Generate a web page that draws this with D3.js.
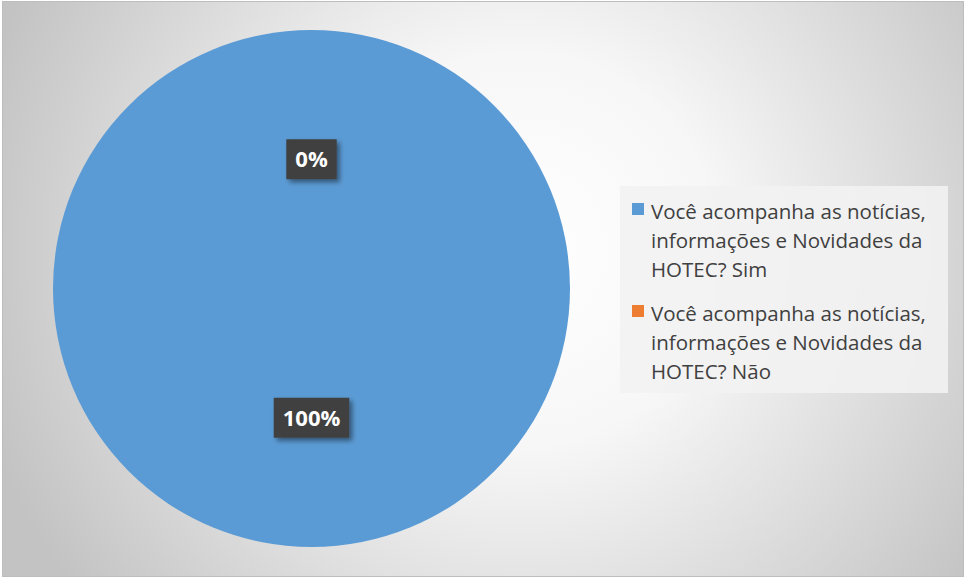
<!DOCTYPE html>
<html>
<head>
<meta charset="utf-8">
<script src="https://cdn.jsdelivr.net/npm/d3@7"></script>
<style>
  html, body { margin: 0; padding: 0; background: #fff; }
  svg { display: block; }
</style>
</head>
<body>
<div id="chart"></div>
<script>
// dados do gráfico
const categories = [
  "Você acompanha as notícias, informações e Novidades da HOTEC? Sim",
  "Você acompanha as notícias, informações e Novidades da HOTEC? Não"
];
const values = [100, 0];
const legendLines = [
  ["Você acompanha as notícias,", "informações e Novidades da", "HOTEC? Sim"],
  ["Você acompanha as notícias,", "informações e Novidades da", "HOTEC? Não"]
];
const colors = ["#5b9bd5", "#ed7d31"];

const width = 965, height = 578;
const cx = 311.5, cy = 288.5, radius = 258.5;

const svg = d3.select("#chart").append("svg")
  .attr("width", width)
  .attr("height", height);

const defs = svg.append("defs");

// fundo com gradiente radial
const grad = defs.append("radialGradient")
  .attr("id", "bg")
  .attr("gradientUnits", "userSpaceOnUse")
  .attr("cx", 520).attr("cy", 250).attr("r", 560);
grad.append("stop").attr("offset", "0%").attr("stop-color", "#ffffff");
grad.append("stop").attr("offset", "35%").attr("stop-color", "#f7f7f7");
grad.append("stop").attr("offset", "100%").attr("stop-color", "#c3c3c3");

// sombra dos rótulos
const shadow = defs.append("filter").attr("id", "shadow")
  .attr("x", "-30%").attr("y", "-30%").attr("width", "160%").attr("height", "160%");
shadow.append("feDropShadow")
  .attr("dx", 3).attr("dy", 3).attr("stdDeviation", 2.5)
  .attr("flood-color", "#000").attr("flood-opacity", 0.45);

svg.append("rect")
  .attr("x", 2.5).attr("y", 1.5)
  .attr("width", width - 4).attr("height", height - 3)
  .attr("fill", "url(#bg)")
  .attr("stroke", "#bdbdbd");

// pizza
const pie = d3.pie().sort(null).value(d => d)(values);
const arc = d3.arc().innerRadius(0).outerRadius(radius);

const g = svg.append("g").attr("transform", `translate(${cx},${cy})`);

g.selectAll("path")
  .data(pie)
  .join("path")
  .attr("fill", (d, i) => colors[i])
  .attr("d", arc);

// rótulos de porcentagem
const total = d3.sum(values);
const labels = g.selectAll("g.lbl")
  .data(pie)
  .join("g")
  .attr("class", "lbl")
  .attr("transform", d => `translate(${arc.centroid(d)})`);

labels.each(function(d) {
  const el = d3.select(this);
  const txt = Math.round(d.data / total * 100) + "%";
  const rect = el.append("rect").attr("fill", "#404040").attr("filter", "url(#shadow)");
  const t = el.append("text")
    .attr("text-anchor", "middle")
    .attr("dy", "0.36em")
    .attr("font-family", "'Open Sans', sans-serif")
    .attr("font-size", "22px")
    .attr("font-weight", "bold")
    .attr("fill", "#ffffff")
    .text(txt);
  const w = t.node().getComputedTextLength() + 18;
  const h = 40;
  rect.attr("x", -w / 2).attr("y", -h / 2).attr("width", w).attr("height", h);
});

// legenda
const legend = svg.append("g").attr("transform", "translate(620,186)");
legend.append("rect")
  .attr("width", 328).attr("height", 207)
  .attr("fill", "#f2f2f2").attr("fill-opacity", 0.9);

const item = legend.selectAll("g.item")
  .data(categories)
  .join("g")
  .attr("class", "item")
  .attr("transform", (d, i) => `translate(0, ${i * 102})`);

item.append("rect")
  .attr("x", 12).attr("y", 17)
  .attr("width", 12).attr("height", 12)
  .attr("fill", (d, i) => colors[i]);

item.append("text")
  .attr("font-family", "'Open Sans', sans-serif")
  .attr("font-size", "20.5px")
  .attr("fill", "#404040")
  .selectAll("tspan")
  .data((d, i) => legendLines[i])
  .join("tspan")
  .attr("x", 31)
  .attr("y", (d, i) => 33 + i * 29)
  .text(d => d);
</script>
</body>
</html>
